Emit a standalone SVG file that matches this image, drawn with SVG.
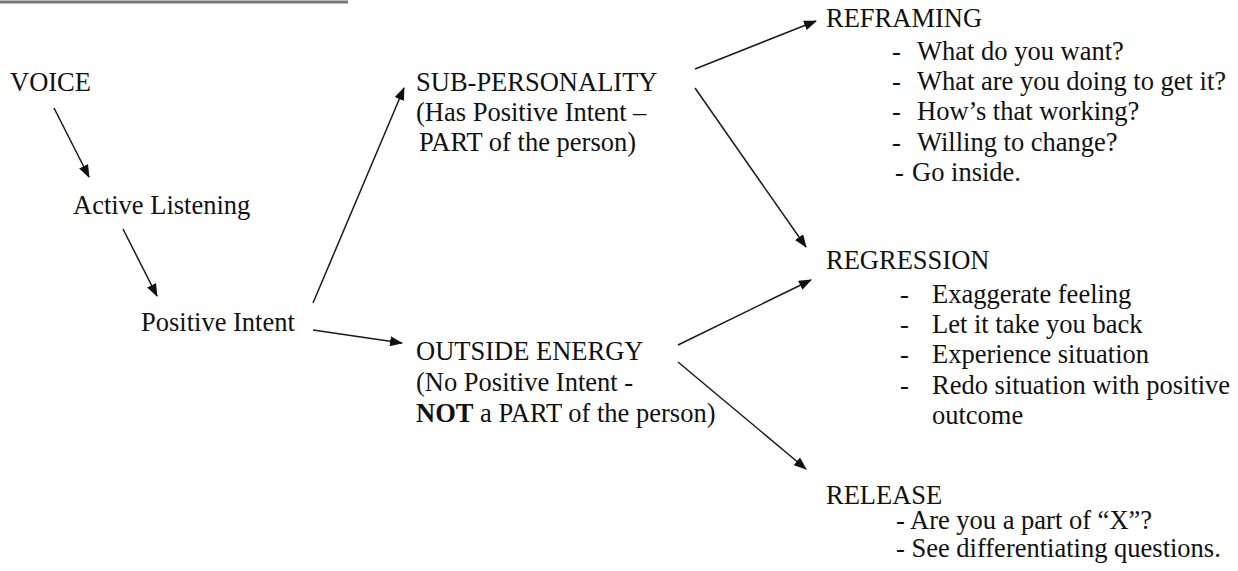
<svg xmlns="http://www.w3.org/2000/svg" width="1238" height="571" viewBox="0 0 1238 571">
<style>
text{font-family:"Liberation Serif","Times New Roman",serif;font-size:26.5px;fill:#111}
.c line{stroke:#1a1a1a;stroke-width:1.5;fill:none}
</style>
<defs>
<marker id="ah" markerUnits="userSpaceOnUse" markerWidth="13" markerHeight="10" refX="12" refY="5" orient="auto">
<path d="M0,0 L13,5 L0,10 z" fill="#111"/>
</marker>
</defs>
<rect width="1238" height="571" fill="#fff"/>
<line x1="0" y1="2" x2="348" y2="2" stroke="#777" stroke-width="3"/>
<g id="voice"><text x="10" y="91">VOICE</text></g>
<g id="active"><text x="73" y="214">Active Listening</text></g>
<g id="positive"><text x="141" y="331">Positive Intent</text></g>
<g id="sub">
<text x="416" y="91">SUB-PERSONALITY</text>
<text x="416" y="121">(Has Positive Intent  –</text>
<text x="419" y="151">PART of the person)</text>
</g>
<g id="outside">
<text x="416" y="360">OUTSIDE ENERGY</text>
<text x="416" y="391">(No Positive Intent -</text>
<text x="416" y="422"><tspan font-weight="bold">NOT</tspan> a PART of the person)</text>
</g>
<g id="reframing">
<text x="826" y="27">REFRAMING</text>
<text x="892" y="60">-</text><text x="917" y="60">What do you want?</text>
<text x="892" y="90">-</text><text x="917" y="90">What are you doing to get it?</text>
<text x="892" y="120">-</text><text x="917" y="120">How’s that working?</text>
<text x="892" y="151">-</text><text x="917" y="151">Willing to change?</text>
<text x="895" y="181">-</text><text x="912" y="181">Go inside.</text>
</g>
<g id="regression">
<text x="826" y="269">REGRESSION</text>
<text x="900" y="303">-</text><text x="932" y="303">Exaggerate feeling</text>
<text x="900" y="333">-</text><text x="932" y="333">Let it take you back</text>
<text x="900" y="363">-</text><text x="932" y="363">Experience situation</text>
<text x="900" y="394">-</text><text x="932" y="394">Redo situation with positive</text>
<text x="932" y="424">outcome</text>
</g>
<g id="release">
<text x="826" y="504">RELEASE</text>
<text x="896" y="529">- Are you a part of “X”?</text>
<text x="896" y="557">-  See differentiating questions.</text>
</g>
<g class="c" id="connectors">
<line x1="54" y1="108" x2="89" y2="177" marker-end="url(#ah)"/>
<line x1="123" y1="229" x2="157" y2="296" marker-end="url(#ah)"/>
<line x1="313" y1="303" x2="404" y2="88" marker-end="url(#ah)"/>
<line x1="313" y1="330" x2="402" y2="343" marker-end="url(#ah)"/>
<line x1="695" y1="69" x2="816" y2="21" marker-end="url(#ah)"/>
<line x1="695" y1="88" x2="806" y2="247" marker-end="url(#ah)"/>
<line x1="678" y1="345" x2="811" y2="280" marker-end="url(#ah)"/>
<line x1="678" y1="362" x2="806" y2="469" marker-end="url(#ah)"/>
</g>
</svg>
